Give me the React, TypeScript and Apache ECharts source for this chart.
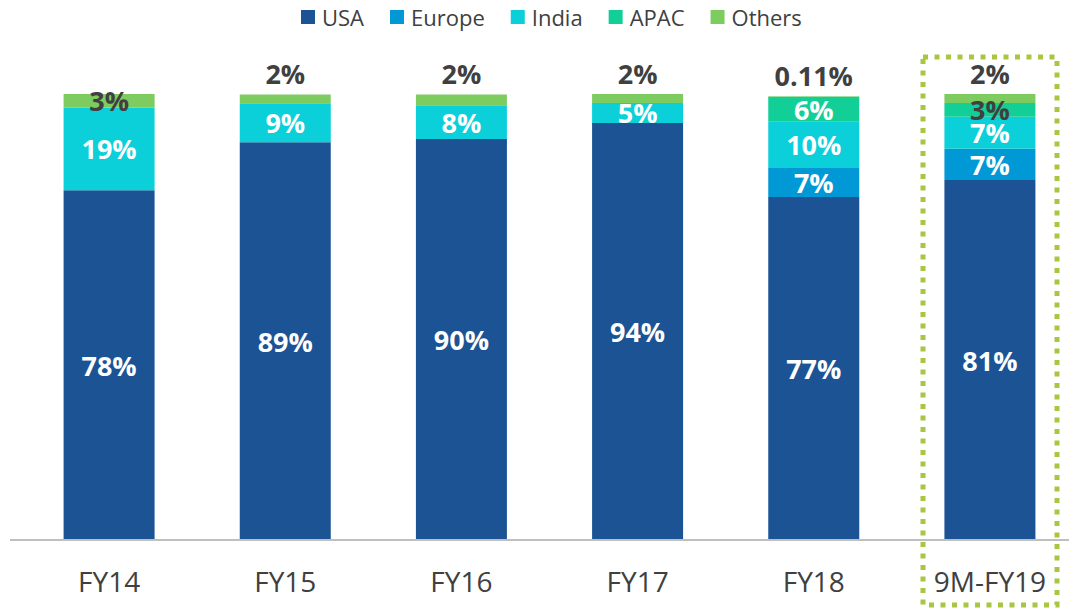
import React, { useEffect, useRef } from "react";
import * as echarts from "echarts";

const categories = ["FY14", "FY15", "FY16", "FY17", "FY18", "9M-FY19"];
const usa = [78.4, 89.2, 89.9, 93.5, 76.9, 80.7];
const europe: (number | null)[] = [null, null, null, null, 6.5, 7.0];
const india = [18.6, 8.7, 7.6, 4.5, 10.4, 7.2];
const apac: (number | null)[] = [null, null, null, null, 5.6, 3.1];
const others = [3, 2, 2.4, 2, 0.11, 2];

const legendNames = ["USA", "Europe", "India", "APAC", "Others"];

const COLORS = {
  usa: "#1b5394",
  europe: "#0099d6",
  india: "#0bcfd9",
  apac: "#12cf97",
  others: "#7ecb60",
};

const fmt = (p: any) => {
  const v = p.value as number;
  if (v == null) return "";
  return (v < 1 ? String(v) : String(Math.round(v))) + "%";
};

const FONT = "'Open Sans', sans-serif";

export default function App() {
  const ref = useRef<HTMLDivElement>(null);
  useEffect(() => {
    document.body.style.margin = "0";
    document.body.style.overflow = "hidden";
    const chart = echarts.init(ref.current!, null, { renderer: "svg" });
    const labelBase = {
      show: true,
      position: "inside" as const,
      color: "#ffffff",
      fontSize: 27,
      fontWeight: "bold" as const,
      fontFamily: FONT,
      formatter: fmt,
    };
    const barW = 91;
    chart.setOption({
      animation: false,
      backgroundColor: "#ffffff",
      legend: {
        top: 6,
        left: 301,
        padding: 0,
        itemWidth: 14,
        itemHeight: 14,
        itemGap: 26,
        icon: "rect",
        textStyle: { fontSize: 22, color: "#404040", fontFamily: FONT, padding: [0, 0, 0, 2] },
        data: legendNames,
      },
      grid: { left: 21, top: 94, width: 1057, height: 446, containLabel: false },
      xAxis: {
        type: "category",
        data: categories,
        axisLine: { show: false },
        axisTick: { show: false },
        axisLabel: { color: "#404040", fontSize: 28, fontFamily: FONT, margin: 27 },
      },
      yAxis: { type: "value", min: 0, max: 100, show: false, splitLine: { show: false } },
      series: [
        {
          name: "USA",
          type: "bar",
          stack: "t",
          barWidth: barW,
          itemStyle: { color: COLORS.usa },
          label: labelBase,
          data: usa,
        },
        {
          name: "Europe",
          type: "bar",
          stack: "t",
          barWidth: barW,
          itemStyle: { color: COLORS.europe },
          label: labelBase,
          data: europe,
        },
        {
          name: "India",
          type: "bar",
          stack: "t",
          barWidth: barW,
          itemStyle: { color: COLORS.india },
          label: labelBase,
          data: india,
        },
        {
          name: "APAC",
          type: "bar",
          stack: "t",
          barWidth: barW,
          itemStyle: { color: COLORS.apac },
          label: labelBase,
          data: apac.map((v, i) =>
            i === 5 ? { value: v, label: { color: "#404040" } } : v
          ),
        },
        {
          name: "Others",
          type: "bar",
          stack: "t",
          barWidth: barW,
          clip: false,
          itemStyle: { color: COLORS.others },
          label: { ...labelBase, position: "top", distance: 7, color: "#404040" },
          data: others.map((v, i) =>
            i === 0 ? { value: v, label: { position: "inside", color: "#404040" } } : v
          ),
        },
      ],
      graphic: [
        {
          type: "line",
          shape: { x1: 10, y1: 540, x2: 1069, y2: 540 },
          style: { stroke: "#bfbfbf", lineWidth: 2 },
          z: 10,
        },
        {
          type: "rect",
          shape: { x: 923, y: 57, width: 134, height: 548 },
          style: {
            fill: "none",
            stroke: "#a9c640",
            lineWidth: 5,
            lineDash: [5, 6.5],
          },
          z: 10,
        },
      ],
    });
    return () => chart.dispose();
  }, []);
  return (
    <div style={{ position: "absolute", left: 0, top: 0, width: 1069, height: 610, overflow: "hidden" }}>
      <div ref={ref} style={{ width: 1100, height: 610 }} />
    </div>
  );
}
